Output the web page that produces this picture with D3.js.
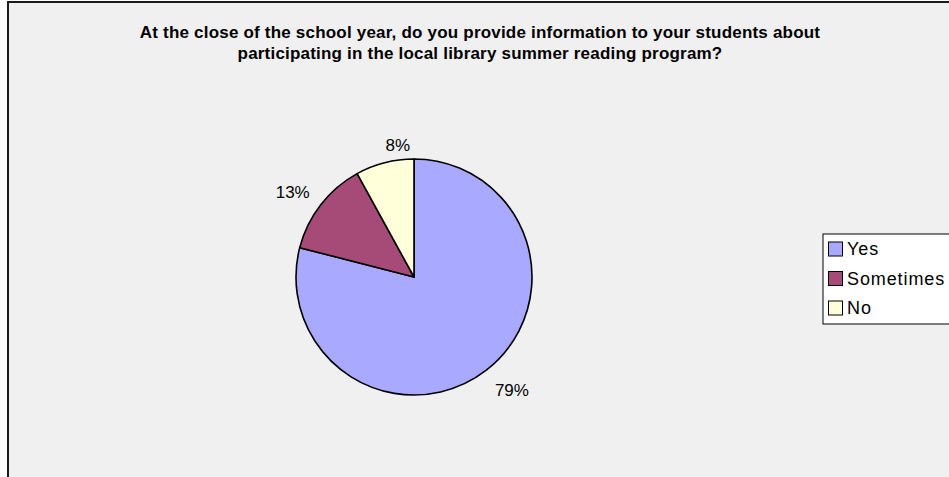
<!DOCTYPE html>
<html>
<head>
<meta charset="utf-8">
<script src="https://cdn.jsdelivr.net/npm/d3@7"></script>
<style>
  html, body { margin: 0; padding: 0; background: #ffffff; }
  svg { display: block; }
  text { font-family: "Liberation Sans", Arial, sans-serif; fill: #000; }
</style>
</head>
<body>
<svg id="chart" width="949" height="477"></svg>
<script>
// Survey responses (percent of respondents)
const categories = ["Yes", "Sometimes", "No"];
const percents = [79, 13, 8];
const colors = ["#a9a9ff", "#a64b78", "#ffffd9"];
const titleLines = [
  "At the close of the school year, do you provide information to your students about",
  "participating in the local library summer reading program?"
];

const svg = d3.select("#chart");
const W = 949, H = 477;

// chart area background and frame
svg.append("rect")
  .attr("x", 8).attr("y", 2)
  .attr("width", W + 10).attr("height", H + 10)
  .attr("fill", "#f0f0f0")
  .attr("stroke", "#1a1a1a")
  .attr("stroke-width", 2);

// title (two centred lines, slightly tracked out)
const title = svg.append("text")
  .attr("text-anchor", "middle")
  .style("font-size", "17px")
  .style("font-weight", "bold")
  .style("letter-spacing", "0.2px");
title.selectAll("tspan")
  .data(titleLines)
  .join("tspan")
  .attr("x", 480)
  .attr("y", (d, i) => 38 + i * 21)
  .text(d => d);

// pie
const cx = 414, cy = 277, r = 118;
const pie = d3.pie().sort(null).value(d => d.value);
const arcs = pie(categories.map((c, i) => ({ name: c, value: percents[i], color: colors[i] })));
const arc = d3.arc().innerRadius(0).outerRadius(r);

const g = svg.append("g").attr("transform", `translate(${cx},${cy})`);
g.selectAll("path.slice")
  .data(arcs)
  .join("path")
  .attr("class", "slice")
  .attr("d", arc)
  .attr("fill", d => d.data.color)
  .attr("stroke", "#000")
  .attr("stroke-width", 1.6)
  .attr("stroke-linejoin", "round");

// percentage labels: the label box corner nearest the pie sits just outside the rim
const labelGap = 14;
const labelShift = { No: 29 };
const labels = g.selectAll("text.pct")
  .data(arcs)
  .join("text")
  .attr("class", "pct")
  .style("font-size", "17px")
  .text(d => d3.format(".0f")(d.data.value) + "%");
labels.each(function (d) {
  const mid = (d.startAngle + d.endAngle) / 2;
  const dx = Math.sin(mid), dy = -Math.cos(mid);
  const ax = dx * (r + labelGap), ay = dy * (r + labelGap);
  const w = this.getComputedTextLength();
  const x = (dx >= 0 ? ax : ax - w) + (labelShift[d.data.name] || 0);
  const y = dy >= 0 ? ay + 15 : ay + 2;
  d3.select(this).attr("x", x).attr("y", y);
});

// legend
const lg = svg.append("g").attr("transform", "translate(823,234)");
lg.append("rect")
  .attr("width", 140).attr("height", 90)
  .attr("fill", "#ffffff")
  .attr("stroke", "#000").attr("stroke-width", 1);
const y = d3.scalePoint().domain(categories).range([15, 74]);
const items = lg.selectAll("g.item").data(categories).join("g")
  .attr("class", "item")
  .attr("transform", d => `translate(0,${y(d)})`);
items.append("rect")
  .attr("x", 5.5).attr("y", -7)
  .attr("width", 14).attr("height", 14)
  .attr("fill", (d, i) => colors[i])
  .attr("stroke", "#000").attr("stroke-width", 1);
items.append("text")
  .attr("x", 24).attr("dy", "0.36em")
  .style("font-size", "18px")
  .style("letter-spacing", "0.9px")
  .text(d => d);
</script>
</body>
</html>
